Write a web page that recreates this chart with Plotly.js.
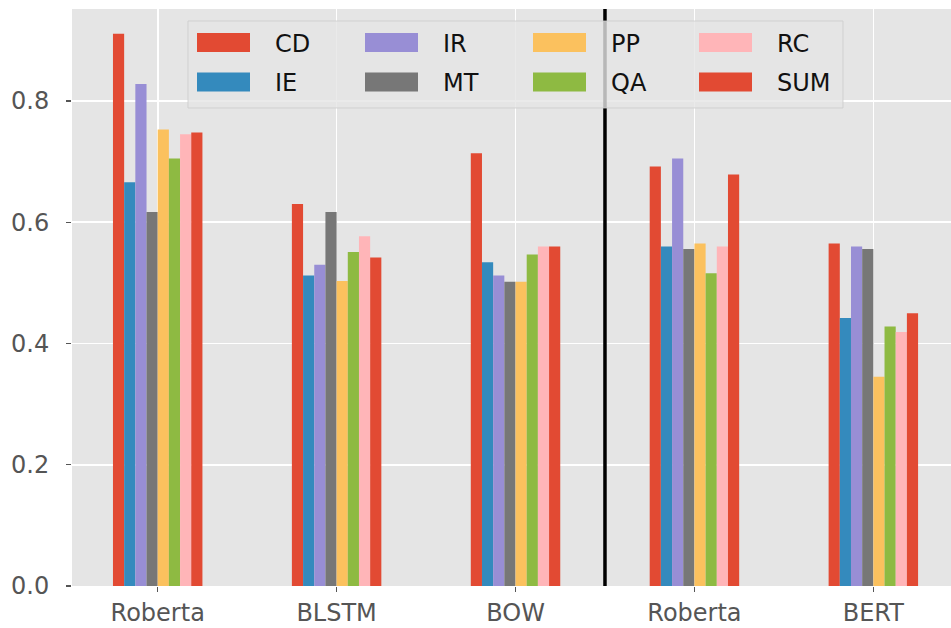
<!DOCTYPE html>
<html>
<head>
<meta charset="utf-8">
<script src="https://cdn.plot.ly/plotly-3.0.1.min.js"></script>
<style>html,body{margin:0;padding:0;background:#fff;}#chart{width:951px;height:628px;}</style>
</head>
<body>
<div id="chart"></div>
<script>
// ---- data ----
const groupLabels = ["Roberta", "BLSTM", "BOW", "Roberta", "BERT"];
const groupPos = [0, 1, 2, 3, 4];
const seriesNames = ["CD", "IE", "IR", "MT", "PP", "QA", "RC", "SUM"];
const seriesColors = ["#E24A33", "#348ABD", "#988ED5", "#777777", "#FBC15E", "#8EBA42", "#FFB5B8", "#E24A33"];
const CD  = [0.911, 0.630, 0.714, 0.692, 0.565];
const IE  = [0.666, 0.512, 0.534, 0.560, 0.442];
const IR  = [0.828, 0.530, 0.512, 0.705, 0.560];
const MT  = [0.617, 0.617, 0.502, 0.556, 0.556];
const PP  = [0.753, 0.503, 0.502, 0.565, 0.345];
const QA  = [0.705, 0.551, 0.547, 0.516, 0.428];
const RC  = [0.745, 0.577, 0.560, 0.560, 0.419];
const SUM = [0.748, 0.542, 0.560, 0.679, 0.450];
const seriesValues = [CD, IE, IR, MT, PP, QA, RC, SUM];
const separatorX = 2.5;

// ---- layout constants (pixels) ----
const W = 951, H = 628;
const M = {l: 72, r: 0, t: 9, b: 42};
const plotW = W - M.l - M.r, plotH = H - M.t - M.b;
const px2x = p => (p - M.l) / plotW;
const py2y = p => (H - M.b - p) / plotH;
const FONT = "DejaVu Sans, Verdana, sans-serif";

const traces = seriesNames.map((n, i) => ({
  type: "bar",
  name: n,
  x: groupPos,
  y: seriesValues[i],
  marker: {color: seriesColors[i], line: {width: 0}},
  showlegend: false
}));

// custom legend (matplotlib style, 4 columns x 2 rows, column-major)
const shapes = [];
const annotations = [];
shapes.push({
  type: "line", xref: "x", yref: "paper", x0: separatorX, x1: separatorX, y0: 0, y1: 1,
  line: {color: "#000000", width: 3.5}, layer: "above"
});
shapes.push({
  type: "rect", xref: "paper", yref: "paper",
  x0: px2x(188), x1: px2x(843), y0: py2y(108), y1: py2y(21),
  fillcolor: "rgba(229,229,229,0.8)", line: {color: "rgba(204,204,204,0.8)", width: 1}, layer: "above"
});
const colX = [197, 365, 533, 699];
const rowY = [42.5, 82];
seriesNames.forEach((n, i) => {
  const c = Math.floor(i / 2), r = i % 2;
  const sx = colX[c], sy = rowY[r];
  shapes.push({
    type: "rect", xref: "paper", yref: "paper",
    x0: px2x(sx), x1: px2x(sx + 53), y0: py2y(sy + 9.5), y1: py2y(sy - 9.5),
    fillcolor: seriesColors[i], line: {width: 0}, layer: "above"
  });
  annotations.push({
    xref: "paper", yref: "paper", x: px2x(sx + 76), y: py2y(sy + 1),
    xanchor: "left", yanchor: "middle", showarrow: false,
    text: n, font: {family: FONT, size: 24, color: "#111111"}
  });
});

const layout = {
  width: W, height: H,
  margin: M,
  paper_bgcolor: "#ffffff",
  plot_bgcolor: "#E5E5E5",
  barmode: "group",
  bargap: 0.5,
  bargroupgap: 0,
  showlegend: false,
  font: {family: FONT, size: 24, color: "#555555"},
  xaxis: {
    range: [-0.479, 4.434],
    tickmode: "array", tickvals: groupPos, ticktext: groupLabels,
    showgrid: true, gridcolor: "#ffffff", gridwidth: 1.6,
    zeroline: false, showline: false,
    ticks: "outside", ticklen: 5, tickwidth: 1.2, tickcolor: "#555555",
    tickfont: {family: FONT, size: 24, color: "#555555"}
  },
  yaxis: {
    range: [0, 0.9518],
    tickmode: "array", tickvals: [0, 0.2, 0.4, 0.6, 0.8], ticktext: ["0.0", "0.2", "0.4", "0.6", "0.8"],
    showgrid: true, gridcolor: "#ffffff", gridwidth: 1.6,
    zeroline: false, showline: false,
    ticks: "outside", ticklen: 5, tickwidth: 1.2, tickcolor: "#555555",
    ticklabelstandoff: 12,
    tickfont: {family: FONT, size: 24, color: "#555555"}
  },
  shapes: shapes,
  annotations: annotations
};

Plotly.newPlot("chart", traces, layout, {displayModeBar: false, staticPlot: true});
</script>
</body>
</html>
